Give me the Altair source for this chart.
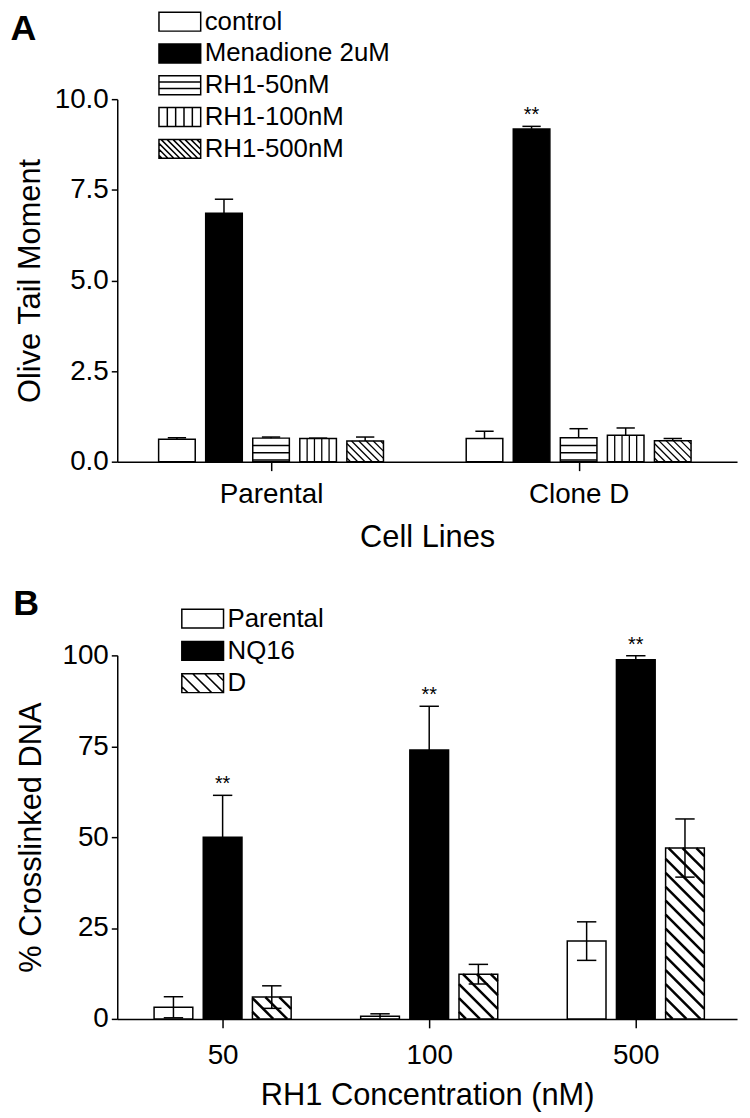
import altair as alt
import pandas as pd

# ---------------- Panel A data ----------------
cell_lines = ["Parental", "Clone D"]
treatments = ["control", "Menadione 2uM", "RH1-50nM", "RH1-100nM", "RH1-500nM"]
olive_parental = [0.62, 6.85, 0.65, 0.64, 0.57]
olive_parental_err = [0.04, 0.39, 0.03, 0.01, 0.11]
olive_clone_d = [0.64, 9.18, 0.66, 0.73, 0.58]
olive_clone_d_err = [0.20, 0.07, 0.25, 0.20, 0.06]
olive_sig = [["", "", "", "", ""], ["", "**", "", "", ""]]
olive_ticks = [0, 2.5, 5, 7.5, 10]

# ---------------- Panel B data ----------------
concentrations = ["50", "100", "500"]
cell_types = ["Parental", "NQ16", "D"]
xl_parental = [3.2, 0.7, 21.4]
xl_parental_err = [2.9, 0.7, 5.3]
xl_nq16 = [50.0, 74.0, 98.8]
xl_nq16_err = [11.5, 12.0, 1.1]
xl_d = [6.0, 12.3, 47.0]
xl_d_err = [3.1, 2.7, 8.0]
xl_sig = ["**", "**", "**"]
xl_ticks = [0, 25, 50, 75, 100]

# ---------------- style / layout ----------------
FONT = "Liberation Sans"
W = 624
H_A = 365
H_B = 366
DOM_XA = [-0.5, 1.515]
DOM_XB = [-0.51, 2.49]
DOM_YA = [0, 10]
DOM_YB = [0, 100]
LABEL_FS = 28
TITLE_FS = 31
LEGEND_FS = 26

fill_a = {"control": "white", "Menadione 2uM": "black", "RH1-50nM": "white",
          "RH1-100nM": "white", "RH1-500nM": "white"}
hatch_a = {"RH1-50nM": "h", "RH1-100nM": "v", "RH1-500nM": "d"}
fill_b = {"Parental": "white", "NQ16": "black", "D": "white"}
hatch_b = {"D": "d"}


def build_bars(groups, series, vals, errs, sigs, fills, pitch, width, two_sided):
    rows = []
    n = len(series)
    for g, _ in enumerate(groups):
        for i, s in enumerate(series):
            c = g + (i - (n - 1) / 2) * pitch
            v = vals[g][i]
            e = errs[g][i]
            rows.append(dict(group=groups[g], series=s, fillc=fills[s], cx=c,
                             x0=c - width / 2, x1=c + width / 2,
                             value=v, base=0.0, hi=v + e, lo=(max(v - e, 0) if two_sided else v),
                             cap0=c - width / 4, cap1=c + width / 4, sig=sigs[g][i]))
    return pd.DataFrame(rows)


def build_hatch(df, kinds, sx, sy, spacing, h_offset=1.7, n_vert=5):
    segs = []
    for r in df.itertuples():
        k = kinds.get(r.series)
        if k is None:
            continue
        Wp = (r.x1 - r.x0) * sx
        Hp = r.value * sy
        if k == "h":
            v = h_offset
            while v < Hp - 1.0:
                segs.append(dict(xa=r.x0, xb=r.x1, ya=v / sy, yb=v / sy))
                v += spacing
        elif k == "v":
            for j in range(1, n_vert):
                x = r.x0 + (r.x1 - r.x0) * j / n_vert
                segs.append(dict(xa=x, xb=x, ya=0.0, yb=r.value))
        elif k == "d":
            c = spacing * 0.5
            while c < Wp + Hp:
                ua = max(0.0, c - Hp)
                ub = min(Wp, c)
                if ub > ua:
                    segs.append(dict(xa=r.x0 + ua / sx, xb=r.x0 + ub / sx,
                                     ya=(c - ua) / sy, yb=(c - ub) / sy))
                c += spacing
    return pd.DataFrame(segs)


def f3(v):
    return f"{v:.3f}".rstrip("0").rstrip(".")


BX0, BX1, BY0, BY1 = -1.0, 3.2, -0.95, 0.95
BOX = f"M{f3(BX0)},{f3(BY0)}H{f3(BX1)}V{f3(BY1)}H{f3(BX0)}Z"


def sym_path(kind, spacing=0.6):
    p = BOX
    if kind == "h":
        for y in (-0.32, 0.32):
            p += f"M{f3(BX0)},{f3(y)}H{f3(BX1)}"
    elif kind == "v":
        for j in range(1, 5):
            x = BX0 + (BX1 - BX0) * j / 5
            p += f"M{f3(x)},{f3(BY0)}V{f3(BY1)}"
    elif kind == "d":
        a = BX0 + BY0 + spacing * 0.5
        while a < BX1 - BY0:
            xa = max(BX0, a + BY0)
            xb = min(BX1, a + BY1)
            if xb > xa:
                p += f"M{f3(xa)},{f3(xa - a)}L{f3(xb)},{f3(xb - a)}"
            a += spacing
    return p


def panel(df, hatch_df, series, fills, paths, dom_x, dom_y, height, ytick_vals, yfmt,
          ytitle, xtitle, groups, letter, legend_x, legend_y, row_pad, hatch_w,
          y_title_pad, two_sided, title_dx, title_dy, x_label_pad, x_title_pad):
    xs = alt.Scale(domain=dom_x, nice=False, zero=False)
    ys = alt.Scale(domain=dom_y, nice=False, zero=True)
    label_expr = " : ".join(
        [f"datum.value == {i} ? '{g}'" for i, g in enumerate(groups)] + ["''"])
    xaxis = alt.Axis(values=list(range(len(groups))), labelExpr=label_expr, title=xtitle,
                     tickSize=9, labelPadding=x_label_pad, titlePadding=x_title_pad,
                     labelFontSize=LABEL_FS, titleFontSize=TITLE_FS)
    yaxis = alt.Axis(values=ytick_vals, format=yfmt, title=ytitle, tickSize=6, labelPadding=3,
                     titlePadding=y_title_pad, labelFontSize=LABEL_FS, titleFontSize=TITLE_FS)

    bars = alt.Chart(df).mark_rect(stroke="black", strokeWidth=1.5).encode(
        x=alt.X("x0:Q", scale=xs, axis=xaxis),
        x2="x1:Q",
        y=alt.Y("value:Q", scale=ys, axis=yaxis),
        y2="base:Q",
        fill=alt.Fill("fillc:N", scale=None),
    )

    layers = [bars]
    if len(hatch_df):
        hatch = alt.Chart(hatch_df).mark_rule(color="black", strokeWidth=hatch_w).encode(
            x=alt.X("xa:Q", scale=xs), x2="xb:Q",
            y=alt.Y("ya:Q", scale=ys), y2="yb:Q")
        layers.append(hatch)

    err = alt.Chart(df).mark_rule(color="black", strokeWidth=1.5).encode(
        x=alt.X("cx:Q", scale=xs),
        y=alt.Y("lo:Q", scale=ys), y2="hi:Q")
    cap_hi = alt.Chart(df).mark_rule(color="black", strokeWidth=1.5).encode(
        x=alt.X("cap0:Q", scale=xs), x2="cap1:Q",
        y=alt.Y("hi:Q", scale=ys))
    layers += [err, cap_hi]
    if two_sided:
        cap_lo = alt.Chart(df).transform_filter("datum.lo > 0").mark_rule(
            color="black", strokeWidth=1.5).encode(
            x=alt.X("cap0:Q", scale=xs), x2="cap1:Q",
            y=alt.Y("lo:Q", scale=ys))
        layers.append(cap_lo)

    sig = alt.Chart(df).transform_filter("datum.sig != ''").mark_text(
        baseline="bottom", fontSize=20, font=FONT, dy=-1, color="black").encode(
        x=alt.X("cx:Q", scale=xs),
        y=alt.Y("hi:Q", scale=ys), text="sig:N")
    layers.append(sig)

    leg = dict(title=None, orient="none", legendX=legend_x, legendY=legend_y,
               labelFont=FONT, labelFontSize=LEGEND_FS, labelColor="black", labelLimit=500,
               symbolSize=400, symbolStrokeWidth=1.5, symbolStrokeColor="black",
               symbolOpacity=1, labelOffset=23, rowPadding=row_pad, padding=0)
    legend_pts = alt.Chart(df).mark_point(filled=True, opacity=0, stroke="black").encode(
        x=alt.X("cx:Q", scale=xs),
        y=alt.Y("base:Q", scale=ys),
        fill=alt.Fill("series:N", scale=alt.Scale(domain=series, range=[fills[s] for s in series]),
                      legend=alt.Legend(**leg)),
        shape=alt.Shape("series:N", scale=alt.Scale(domain=series, range=paths),
                        legend=alt.Legend(**leg)),
    )
    layers.append(legend_pts)

    return alt.layer(*layers).properties(
        width=W, height=height,
        title=alt.TitleParams(letter, anchor="start", frame="bounds", fontSize=36,
                              fontWeight="bold", font=FONT, color="black", dx=title_dx,
                              dy=title_dy, offset=0, baseline="alphabetic"),
    )


# ---- panel A ----
vals_a = [olive_parental, olive_clone_d]
errs_a = [olive_parental_err, olive_clone_d_err]
df_a = build_bars(cell_lines, treatments, vals_a, errs_a, olive_sig, fill_a, 0.153, 0.119, False)
sx_a = W / (DOM_XA[1] - DOM_XA[0])
sy_a = H_A / (DOM_YA[1] - DOM_YA[0])
hatch_df_a = build_hatch(df_a, hatch_a, sx_a, sy_a, spacing=7.3)
paths_a = [BOX, BOX, sym_path("h"), sym_path("v"), sym_path("d", 0.6)]

chart_a = panel(df_a, hatch_df_a, treatments, fill_a, paths_a, DOM_XA, DOM_YA, H_A,
                olive_ticks, ".1f", "Olive Tail Moment", "Cell Lines", cell_lines, "A",
                39, -91, 6, 1.3, 8, False, -4, 67, 10, 14)

# ---- panel B ----
vals_b = [[xl_parental[k], xl_nq16[k], xl_d[k]] for k in range(3)]
errs_b = [[xl_parental_err[k], xl_nq16_err[k], xl_d_err[k]] for k in range(3)]
sigs_b = [["", xl_sig[k], ""] for k in range(3)]
df_b = build_bars(concentrations, cell_types, vals_b, errs_b, sigs_b, fill_b, 0.238, 0.1875, True)
sx_b = W / (DOM_XB[1] - DOM_XB[0])
sy_b = H_B / (DOM_YB[1] - DOM_YB[0])
hatch_df_b = build_hatch(df_b, hatch_b, sx_b, sy_b, spacing=14)
paths_b = [BOX, BOX, sym_path("d", 1.2)]

chart_b = panel(df_b, hatch_df_b, cell_types, fill_b, paths_b, DOM_XB, DOM_YB, H_B,
                xl_ticks, "d", "% Crosslinked DNA", "RH1 Concentration (nM)", concentrations,
                "B", 62, -50, 6.5, 2.5, 15, True, -2, 45, 14, 11)

chart = alt.vconcat(chart_a, chart_b, spacing=195, bounds="flush").resolve_scale(
    x="independent", y="independent", fill="independent", shape="independent"
).configure_view(stroke=None).configure_axis(
    grid=False, domainColor="black", tickColor="black", labelColor="black",
    titleColor="black", labelFont=FONT, titleFont=FONT, titleFontWeight="normal",
    domainWidth=1.5, tickWidth=1.5,
).properties(padding={"left": 2, "top": -3, "right": 5, "bottom": 5})

chart.save("out.html", embed_options={"renderer": "svg", "actions": False})
